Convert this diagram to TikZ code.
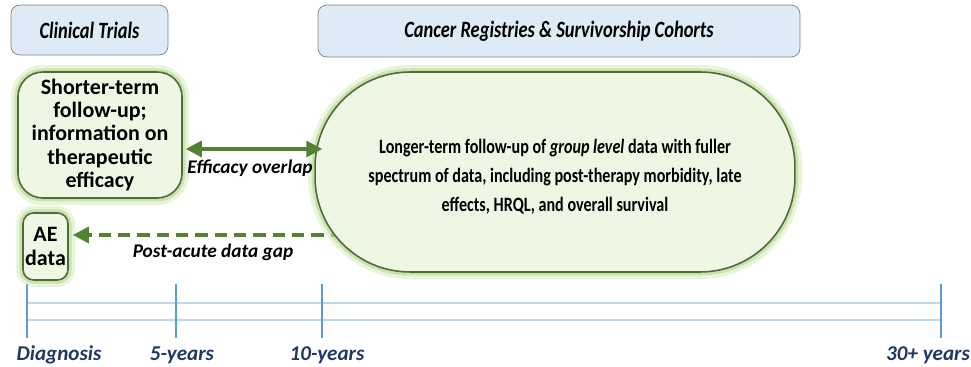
\documentclass[tikz,border=0pt]{standalone}
\usepackage{fontspec}
\setmainfont{Carlito}
\newfontfamily\estrecha{Carlito}[FakeStretch=0.79]
\usetikzlibrary{arrows.meta, positioning, calc}
\definecolor{azulcaja}{HTML}{DEEBF7}
\definecolor{grisborde}{HTML}{7F7F7F}
\definecolor{verdefondo}{HTML}{EEF7E4}
\definecolor{verdeborde}{HTML}{4F6B3C}
\definecolor{verdebrillo}{HTML}{B5DA8F}
\definecolor{verdeflecha}{HTML}{548235}
\definecolor{azulmarca}{HTML}{5B9BD5}
\definecolor{azuleje}{HTML}{BDD7EE}
\definecolor{marino}{HTML}{203864}
\tikzset{
  cajaFuente/.style={
    draw=grisborde, thin, rounded corners=5pt, fill=azulcaja,
    minimum height=1cm, align=center,
    font=\estrecha\fontsize{13.3}{15}\selectfont\bfseries\itshape
  },
  cajaDatos/.style={
    draw=verdeborde, line width=0.9pt, fill=verdefondo, align=center,
    preaction={draw=verdebrillo, line width=8pt, opacity=.3},
    preaction={draw=verdebrillo, line width=4pt, opacity=.6},
    font=\fontsize{12.5}{13.3}\selectfont\bfseries
  },
  flechaDoble/.style={{Triangle[length=3.2mm, width=3.2mm]}-{Triangle[length=3.2mm, width=3.2mm]},
    line width=1.8pt, verdeflecha},
  flechaPunteada/.style={-{Triangle[length=3.2mm, width=3.2mm]}, line width=1.8pt,
    dash pattern=on 7pt off 4pt, verdeflecha},
  etiquetaFlecha/.style={font=\fontsize{11}{13}\selectfont\bfseries\itshape},
  marca/.style={draw=azulmarca, line width=1.1pt},
  eje/.style={draw=azuleje, line width=0.9pt},
  etiquetaTiempo/.style={font=\fontsize{12}{14}\selectfont\bfseries\itshape, text=marino},
}
\begin{document}
\begin{tikzpicture}[x=0.02cm, y=-0.02cm]
  \useasboundingbox (0,0) rectangle (971,367);

  % cabeceras
  \node[cajaFuente, minimum width=3.14cm] (ensayos) at (89.5,30) {Clinical Trials};
  \node[cajaFuente, minimum width=9.64cm, minimum height=1.04cm] (registros) at (559,31)
    {Cancer Registries \& Survivorship Cohorts};

  % eje de tiempo
  \draw[eje] (27,303) -- (941,303);
  \draw[eje] (27,320) -- (941,320);
  \foreach \x/\n in {27/t0, 176/t1, 322/t2, 941/t3}
    \draw[marca] (\x,284) -- (\x,338) coordinate (\n);
  \node[etiquetaTiempo] (diag) at (59,355) {Diagnosis};
  \node[etiquetaTiempo] (cinco) at (182,355) {5-years};
  \node[etiquetaTiempo] (diez) at (327,355) {10-years};
  \node[etiquetaTiempo] (treinta) at (928,355) {30+ years};

  % datos de ensayos y registros
  \node[cajaDatos, minimum width=3.28cm, minimum height=2.52cm, rounded corners=14pt] (corto) at (100,135)
    {Shorter-term\\follow-up;\\information on\\therapeutic\\efficacy};
  \node[cajaDatos, minimum width=0.9cm, minimum height=1.34cm, inner sep=1pt, rounded corners=6pt] (ae) at (45.5,246.5)
    {AE\\data};
  \draw[flechaPunteada] (343,235) coordinate (brecha) -- ([shift={(4,-11.5)}]ae.east);
  \node[cajaDatos, minimum width=9.6cm, minimum height=4cm, rounded corners=1.9cm, text height=47pt,
        font=\estrecha\fontsize{11.6}{16.5}\selectfont\bfseries] (largo) at (555,172)
    {Longer-term follow-up of \textit{group level} data with fuller\\
     spectrum of data, including post-therapy morbidity, late\\
     effects, HRQL, and overall survival};

  \draw[flechaDoble] ([shift={(3,14)}]corto.east) -- ([shift={(8,-23)}]largo.west);
  \node[etiquetaFlecha] (solape) at (250,168) {Efficacy overlap};
  \node[etiquetaFlecha] (brechaTxt) at (213,252) {Post-acute data gap};
\end{tikzpicture}
\end{document}
